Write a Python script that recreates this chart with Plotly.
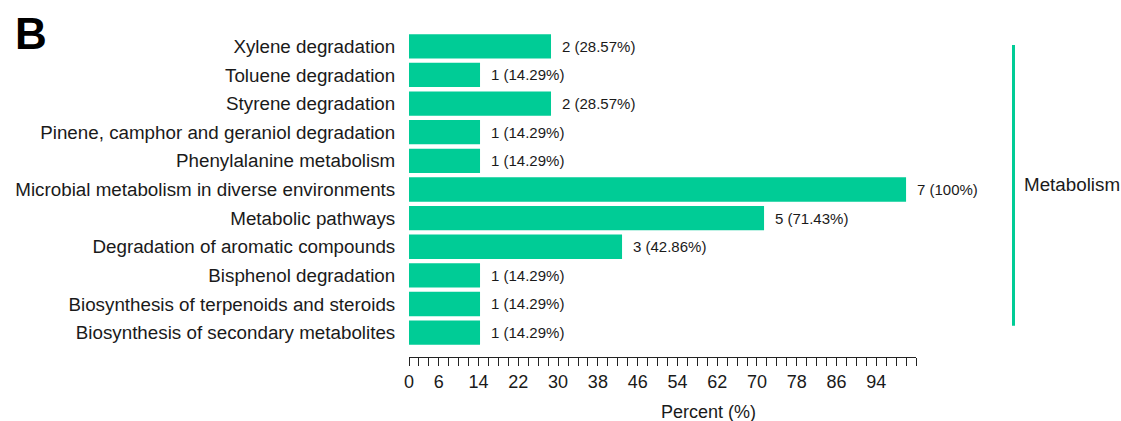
import plotly.graph_objects as go

# KEGG pathway categories (top to bottom), gene counts and percentages
pathways = [
    "Xylene degradation",
    "Toluene degradation",
    "Styrene degradation",
    "Pinene, camphor and geraniol degradation",
    "Phenylalanine metabolism",
    "Microbial metabolism in diverse environments",
    "Metabolic pathways",
    "Degradation of aromatic compounds",
    "Bisphenol degradation",
    "Biosynthesis of terpenoids and steroids",
    "Biosynthesis of secondary metabolites",
]
counts = [2, 1, 2, 1, 1, 7, 5, 3, 1, 1, 1]
percents = [28.57, 14.29, 28.57, 14.29, 14.29, 100, 71.43, 42.86, 14.29, 14.29, 14.29]

# labelled ticks, and the tick-mark step along the percent axis
x_tick_labels = [0, 6, 14, 22, 30, 38, 46, 54, 62, 70, 78, 86, 94]
x_tick_step = 2
x_max = 102
group_label = "Metabolism"
panel_label = "B"

FONT = "Liberation Sans, Arial, Helvetica, sans-serif"
GREEN = "#00CC96"
TEXT = "#1a1a1a"

labels = [f"{c} ({p:g}%)" for c, p in zip(counts, percents)]

tick_positions = list(range(0, x_max + 1, x_tick_step))
tick_text = [str(v) if v in x_tick_labels else "" for v in tick_positions]

fig = go.Figure(
    go.Bar(
        x=percents,
        y=pathways,
        orientation="h",
        marker=dict(color=GREEN, line=dict(width=0)),
        hoverinfo="skip",
    )
)

annotations = [
    dict(
        x=p, y=cat, xref="x", yref="y", text=t, showarrow=False,
        xanchor="left", yanchor="middle", xshift=9,
        font=dict(family=FONT, size=15, color=TEXT),
    )
    for p, cat, t in zip(percents, pathways, labels)
]
annotations += [
    dict(x=0.59, y=-0.168, xref="paper", yref="paper", text="Percent (%)",
         showarrow=False, xanchor="center", yanchor="middle",
         font=dict(family=FONT, size=18, color=TEXT)),
    dict(x=1.209, y=0.530, xref="paper", yref="paper", text=group_label,
         showarrow=False, xanchor="left", yanchor="middle",
         font=dict(family=FONT, size=18.8, color=TEXT)),
    dict(x=-0.781, y=0.994, xref="paper", yref="paper", text=f"<b>{panel_label}</b>",
         showarrow=False, xanchor="left", yanchor="middle",
         font=dict(family=FONT, size=44, color="#000000")),
]

fig.update_layout(
    width=1121,
    height=421,
    margin=dict(l=409, r=205, t=32, b=64),
    paper_bgcolor="white",
    plot_bgcolor="white",
    bargap=0.15,
    showlegend=False,
    annotations=annotations,
    shapes=[
        dict(type="line", xref="paper", yref="paper",
             x0=1.1923, x1=1.1923, y0=0.096, y1=0.960,
             line=dict(color=GREEN, width=3)),
    ],
    font=dict(family=FONT, color=TEXT),
)

fig.update_xaxes(
    range=[0, x_max],
    anchor="free",
    position=0,
    tickmode="array",
    tickvals=tick_positions,
    ticktext=tick_text,
    ticks="outside",
    ticklen=8,
    tickwidth=1,
    tickcolor="#222222",
    showline=True,
    linecolor="#222222",
    linewidth=1,
    showgrid=False,
    zeroline=False,
    tickfont=dict(family=FONT, size=18, color=TEXT),
)

fig.update_yaxes(
    domain=[0.031, 1],
    categoryorder="array",
    categoryarray=pathways,
    autorange="reversed",
    ticks="outside",
    ticklen=9,
    tickcolor="rgba(0,0,0,0)",
    showline=False,
    showgrid=False,
    zeroline=False,
    tickfont=dict(family=FONT, size=18.8, color=TEXT),
)

fig.write_html("out.html")
